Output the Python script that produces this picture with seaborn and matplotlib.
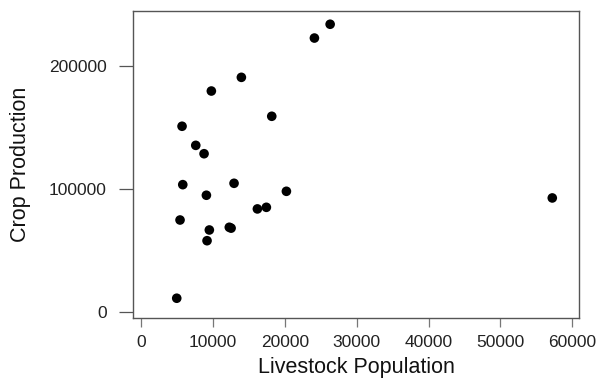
import matplotlib
matplotlib.use("Agg")
import matplotlib.pyplot as plt
import seaborn as sns
import pandas as pd

# Livestock population vs crop production per region
livestock = [4930, 5390, 5670, 5770, 7580, 8735, 9060, 9150, 9470, 9750,
             12250, 12500, 12910, 13930, 16160, 17410, 18160, 20200,
             24100, 26290, 57220]
crops = [11400, 74900, 151000, 103600, 135500, 128700, 95000, 58100, 66800, 179600,
         69000, 68300, 104700, 190700, 83900, 85200, 159100, 98200,
         222600, 233800, 92800]

x_ticks = [0, 10000, 20000, 30000, 40000, 50000, 60000]
y_ticks = [0, 100000, 200000]

df = pd.DataFrame({"Livestock Population": livestock, "Crop Production": crops})

sns.set_style("white")
plt.rcParams["font.family"] = ["Liberation Sans", "DejaVu Sans"]

fig = plt.figure(figsize=(5.98, 3.79), dpi=100)
ax = fig.add_axes([0.2224, 0.161, 0.7463, 0.810])

sns.scatterplot(data=df, x="Livestock Population", y="Crop Production", ax=ax,
                color="black", edgecolor="none", s=48, linewidth=0)

ax.set_xlim(-1160, 60980)
ax.set_ylim(-4630, 244560)
ax.set_xticks(x_ticks)
ax.set_yticks(y_ticks)
ax.set_xticklabels([str(v) for v in x_ticks])
ax.set_yticklabels([str(v) for v in y_ticks])

for s in ax.spines.values():
    s.set_visible(True)
    s.set_color("#555555")
    s.set_linewidth(1.0)

ax.tick_params(axis="x", direction="out", length=6.5, width=0.9, color="#777777",
               labelsize=12.5, pad=6, labelcolor="#222222", bottom=True)
ax.tick_params(axis="y", direction="out", length=10, width=0.9, color="#555555",
               labelsize=12.5, pad=9, labelcolor="#222222", left=True)

ax.set_xlabel("Livestock Population", fontsize=15.5, color="#111111", labelpad=5)
ax.set_ylabel("Crop Production", fontsize=15.5, color="#111111", labelpad=13)

fig.savefig("out.png", dpi=100)
